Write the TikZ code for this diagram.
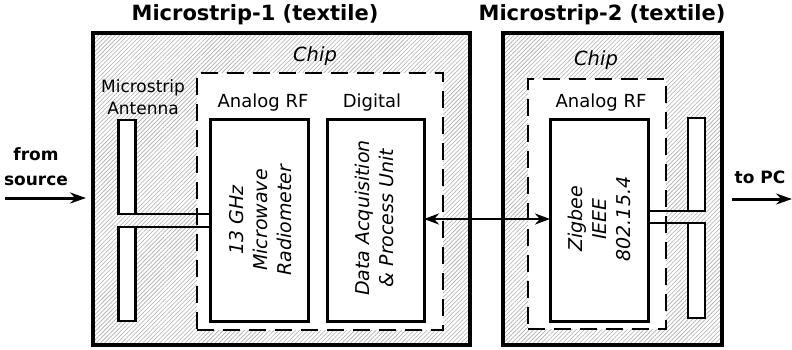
\documentclass[tikz,border=0pt]{standalone}
\usepackage{fontspec}
\setmainfont{DejaVu Sans}
\usetikzlibrary{arrows.meta,patterns.meta}
\begin{document}
\begin{tikzpicture}[x=1pt,y=-1pt,
  outerbox/.style={draw,line width=3.5pt,inner sep=0pt,outer sep=0pt,
     pattern={Lines[angle=45,distance=3pt,line width=0.6pt]},pattern color=black!32},
  chipbox/.style={draw,fill=white,line width=2.7pt,dash pattern=on 17pt off 9pt,inner sep=0pt,outer sep=0pt},
  blockbox/.style={draw,fill=white,line width=3pt,inner sep=0pt,outer sep=0pt},
  antbox/.style={draw,fill=white,line width=2.7pt,inner sep=0pt,outer sep=0pt,minimum width=17pt},
  feed/.style={line width=2.3pt},
  arr/.style={line width=3pt,-{Stealth[length=16pt,width=11pt]}},
  biarr/.style={line width=2.5pt,{Stealth[length=15pt,width=11pt]}-{Stealth[length=15pt,width=11pt]}},
  titletxt/.style={font=\fontsize{21}{25}\selectfont\bfseries},
  lbltxt/.style={font=\fontsize{18}{22}\selectfont},
  smalltxt/.style={font=\fontsize{17}{22}\selectfont,align=center},
  chiptxt/.style={font=\fontsize{19.5}{23}\selectfont\itshape},
  rottxt/.style={font=\fontsize{19}{24}\selectfont\itshape,align=center,rotate=90},
  iotxt/.style={font=\fontsize{17}{25}\selectfont\bfseries,align=center}]
\useasboundingbox (0,0) rectangle (792,350);

% outer textile boxes
\node[outerbox,minimum width=377pt,minimum height=312pt] (ms1) at (281.5,189) {};
\node[outerbox,minimum width=219pt,minimum height=312pt] (ms2) at (612.5,189) {};
\node[titletxt] (t1) at (255,15) {Microstrip-1 (textile)};
\node[titletxt] (t2) at (602,15) {Microstrip-2 (textile)};

% chips
\node[chipbox,minimum width=246pt,minimum height=257pt] (chip1) at (320,201.5) {};
\node[chipbox,minimum width=138pt,minimum height=250pt] (chip2) at (597,204) {};
\node[chiptxt] (c1) at (315,56) {Chip};
\node[chiptxt] (c2) at (596,60) {Chip};

% blocks
\node[blockbox,minimum width=98pt,minimum height=201pt] (rad) at (259,220.5) {};
\node[blockbox,minimum width=97pt,minimum height=201pt] (dig) at (375.5,220.5) {};
\node[blockbox,minimum width=98pt,minimum height=201pt] (zig) at (599,220.5) {};
\node[lbltxt] (l1) at (263,103) {Analog RF};
\node[lbltxt] (l2) at (372,103) {Digital};
\node[lbltxt] (l3) at (601,103) {Analog RF};

\node[rottxt] (radt) at (261,220) {13 GHz\\Microwave\\Radiometer};
\node[rottxt] (digt) at (374,218) {Data Acquisition\\\& Process Unit};
\node[rottxt] (zigt) at (599,219) {Zigbee\\IEEE\\802.15.4};

% antennas
\node[antbox,minimum height=94pt] (a1t) at (127,167) {};
\node[antbox,minimum height=94pt] (a1b) at (127,274) {};
\node[antbox,minimum height=93pt] (a2t) at (696.5,164.5) {};
\node[antbox,minimum height=95pt] (a2b) at (696.5,270.5) {};
\node[smalltxt] (ant) at (143,97) {Microstrip\\Antenna};

\draw[feed] (a1t.south west) -- (rad.west |- a1t.south);
\draw[feed] (a1b.north west) -- (rad.west |- a1b.north);
\draw[feed] (zig.east |- a2t.south) -- (a2t.south east);
\draw[feed] (zig.east |- a2b.north) -- (a2b.north east);

% connection
\draw[biarr] (dig.east |- 0,219) -- (zig.west |- 0,219);

% in / out
\node[iotxt] (src) at (36,167) {from\\source};
\coordinate (srcA) at (5,198);
\coordinate (srcB) at (86,198);
\draw[arr] (srcA) -- (srcB);
\node[iotxt] (pc) at (760,177) {to PC};
\coordinate (pcA) at (732,199);
\coordinate (pcB) at (792,199);
\draw[arr] (pcA) -- (pcB);
\end{tikzpicture}
\end{document}
